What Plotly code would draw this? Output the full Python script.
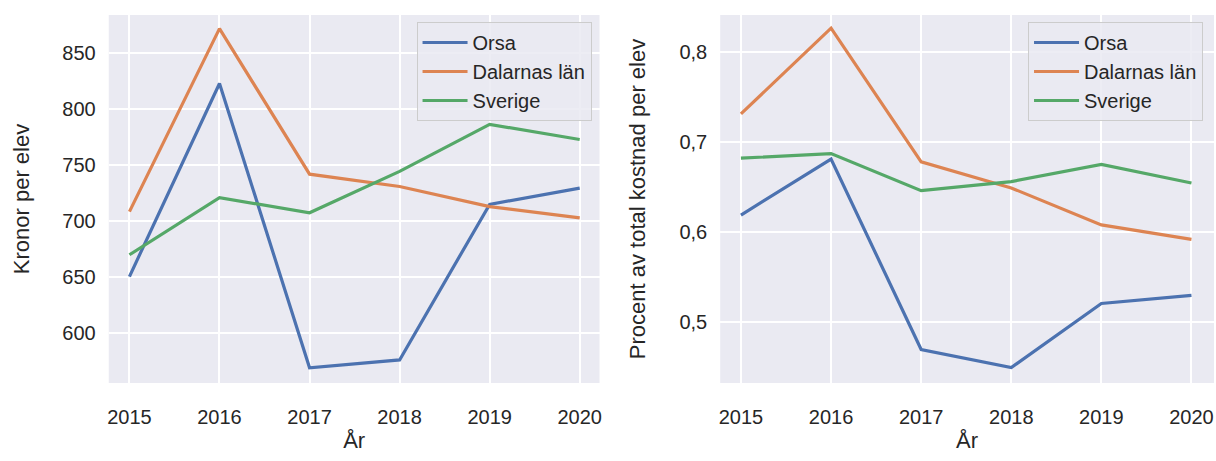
import plotly.graph_objects as go

years = [2015, 2016, 2017, 2018, 2019, 2020]
series_names = ["Orsa", "Dalarnas län", "Sverige"]

kronor_orsa = [650.5, 823, 569, 576, 715, 729.5]
kronor_dalarna = [708.5, 872, 742, 731, 713, 703]
kronor_sverige = [670, 721, 707.5, 744.5, 786.5, 773]

procent_orsa = [0.619, 0.681, 0.470, 0.450, 0.521, 0.530]
procent_dalarna = [0.731, 0.826, 0.678, 0.649, 0.608, 0.592]
procent_sverige = [0.682, 0.687, 0.646, 0.656, 0.675, 0.6545]

colors = ["#4C72B0", "#DD8452", "#55A868"]
text_color = "#262626"
bg = "#EAEAF2"
FONT = "Liberation Sans, Arial, sans-serif"

fig = go.Figure()

left = [kronor_orsa, kronor_dalarna, kronor_sverige]
right = [procent_orsa, procent_dalarna, procent_sverige]

for name, vals, c in zip(series_names, left, colors):
    fig.add_trace(go.Scatter(x=years, y=vals, name=name, mode="lines",
                             line=dict(color=c, width=3.2), xaxis="x", yaxis="y",
                             legend="legend"))
for name, vals, c in zip(series_names, right, colors):
    fig.add_trace(go.Scatter(x=years, y=vals, name=name, mode="lines",
                             line=dict(color=c, width=3.2), xaxis="x2", yaxis="y2",
                             legend="legend2"))

W, H = 1216, 461
def px_x(p):
    return p / W
def px_y(p):
    return 1 - p / H

axis_common = dict(showgrid=True, gridcolor="white", gridwidth=1.6, zeroline=False,
                   showline=False, ticks="", tickfont=dict(size=20, color=text_color),
                   title_font=dict(size=22, color=text_color))

legend_common = dict(bgcolor="rgba(234,234,242,0.85)", bordercolor="#CCCCCC", borderwidth=1,
                     font=dict(size=20, color=text_color), yanchor="top", xanchor="right",
                     itemwidth=45, tracegroupgap=0)

fig.update_layout(
    width=W, height=H,
    margin=dict(l=0, r=0, t=0, b=0),
    paper_bgcolor="white", plot_bgcolor=bg,
    font=dict(family=FONT, color=text_color),
    separators=", ",
    xaxis=dict(domain=[px_x(108), px_x(600)], range=[2014.77, 2020.22], anchor="y",
               tickvals=years, title=dict(text="År", standoff=5), ticklabelstandoff=20,
               **axis_common),
    yaxis=dict(domain=[px_y(383), px_y(15)], range=[555.4, 884.2], anchor="x",
               tickvals=[600, 650, 700, 750, 800, 850],
               title=dict(text="Kronor per elev", standoff=26), ticklabelstandoff=12,
               **axis_common),
    xaxis2=dict(domain=[px_x(721), 1.0], range=[2014.77, 2020.25], anchor="y2",
                tickvals=years, title=dict(text="År", standoff=5), ticklabelstandoff=20,
                **axis_common),
    yaxis2=dict(domain=[px_y(383), px_y(15)], range=[0.4329, 0.8406], anchor="x2",
                tickvals=[0.5, 0.6, 0.7, 0.8], tickformat=".1f",
                title=dict(text="Procent av total kostnad per elev", standoff=27),
                ticklabelstandoff=12, **axis_common),
    legend=dict(x=px_x(592), y=px_y(22), **legend_common),
    legend2=dict(x=px_x(1205), y=px_y(22), **legend_common),
)

fig.write_html("out.html", config={"displayModeBar": False},
               post_script="document.body.style.margin='0';document.body.style.overflow='hidden';")
